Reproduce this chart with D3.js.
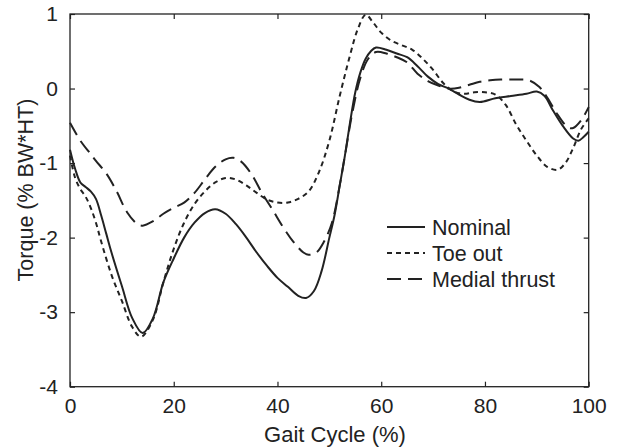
<!DOCTYPE html>
<html>
<head>
<meta charset="utf-8">
<script src="https://cdn.jsdelivr.net/npm/d3@7"></script>
<style>
  body { margin: 0; background: #fff; }
  text { font-family: "Liberation Sans", Arial, Helvetica, sans-serif; fill: #222; }
</style>
</head>
<body>
<div id="chart"></div>
<script>
// data: [gait cycle %, torque]
var nominal = [
  [0,-0.82],[1,-1.08],[2,-1.26],[3,-1.32],[4,-1.38],[5,-1.48],[6,-1.7],[7,-1.95],[8,-2.2],
  [10,-2.65],[12,-3.08],[14,-3.28],[16,-3.08],[18,-2.6],[20,-2.28],[22,-2.0],[24,-1.8],
  [26,-1.67],[28,-1.62],[30,-1.68],[32,-1.82],[34,-2.0],[36,-2.2],[38,-2.38],[40,-2.54],
  [42,-2.66],[44,-2.78],[45.5,-2.81],[47,-2.72],[48.5,-2.45],[50,-2.0],[51,-1.7],[52,-1.3],
  [53,-0.9],[54,-0.45],[55,-0.05],[56,0.22],[57,0.4],[58,0.5],[59,0.55],[61,0.52],[63,0.47],
  [65,0.42],[67,0.3],[69,0.16],[71,0.06],[73,0.0],[75,-0.08],[77,-0.15],[79,-0.18],[82,-0.13],
  [85,-0.1],[88,-0.07],[90,-0.04],[91.5,-0.1],[93,-0.28],[95,-0.5],[97,-0.67],[98,-0.7],
  [99,-0.65],[100,-0.58]
];

var toeOut = [
  [0,-0.9],[1,-1.2],[2,-1.35],[3,-1.45],[4,-1.6],[5,-1.8],[6,-2.05],[8,-2.5],[10,-2.85],
  [12,-3.2],[13.7,-3.33],[16,-3.1],[18,-2.6],[20,-2.15],[22,-1.8],[24,-1.55],[26,-1.38],
  [28,-1.26],[30,-1.2],[32,-1.22],[34,-1.3],[36,-1.4],[38,-1.49],[40,-1.53],[42,-1.53],
  [44,-1.48],[46,-1.38],[48,-1.12],[50,-0.7],[52,-0.1],[54,0.45],[55.5,0.8],[57,0.99],
  [58.5,0.88],[60,0.75],[62,0.64],[64,0.58],[66,0.52],[68,0.4],[70,0.25],[72,0.07],
  [74,-0.04],[76,-0.07],[78,-0.05],[80,-0.05],[82,-0.08],[84,-0.22],[86,-0.48],[88,-0.7],
  [90,-0.9],[92,-1.05],[94,-1.09],[95.5,-1.0],[97,-0.8],[98.5,-0.55],[100,-0.4]
];

var medialThrust = [
  [0,-0.46],[2,-0.7],[4,-0.88],[5,-0.97],[7,-1.14],[9,-1.38],[11,-1.66],[13,-1.82],
  [14,-1.84],[16,-1.78],[18,-1.68],[20,-1.6],[22,-1.53],[24,-1.4],[26,-1.22],[28,-1.05],
  [30,-0.95],[31.5,-0.93],[33,-0.98],[35,-1.15],[37,-1.4],[39,-1.62],[41,-1.85],[43,-2.05],
  [45,-2.2],[46,-2.23],[47.5,-2.2],[49,-2.05],[50.5,-1.8],[52,-1.3],[53,-0.9],[54.5,-0.3],
  [56,0.15],[57.5,0.4],[59,0.49],[61,0.47],[63,0.42],[65,0.35],[67,0.2],[69,0.1],[71,0.04],
  [73,0.0],[75,0.01],[77,0.05],[79,0.09],[81,0.11],[83,0.12],[86,0.12],[88.5,0.11],
  [90.5,0.02],[92,-0.12],[94,-0.35],[96,-0.52],[97,-0.53],[98.5,-0.43],[100,-0.25]
];

var seriesNames = ["Nominal", "Toe out", "Medial thrust"];
var xTicks = [0, 20, 40, 60, 80, 100];
var yTicks = [-4, -3, -2, -1, 0, 1];

// settings
var svgWidth = 618;
var svgHeight = 447;
var margin = { top: 14, right: 29.3, bottom: 60.3, left: 70 };
var width = svgWidth - margin.left - margin.right;
var height = svgHeight - margin.top - margin.bottom;
var ink = "#222";

var svg = d3.select("#chart")
  .append("svg")
  .attr("width", svgWidth)
  .attr("height", svgHeight);

var chart = svg.append("g")
  .attr("transform", `translate(${margin.left}, ${margin.top})`);

var x = d3.scaleLinear().domain([0, 100]).range([0, width]);
var y = d3.scaleLinear().domain([-4, 1]).range([height, 0]);

// plain hyphen labels like the original
var plain = d => String(d);

// axes, ticks pointing inward
function styleAxis(g) {
  g.select(".domain").remove();
  g.selectAll(".tick line").attr("stroke", ink).attr("stroke-width", 1.2);
  g.selectAll(".tick text").attr("font-size", 21).attr("fill", ink)
    .style("font-family", "'Liberation Sans', Arial, sans-serif");
}

chart.append("g")
  .attr("transform", `translate(0, ${height})`)
  .call(d3.axisBottom(x).tickValues(xTicks).tickFormat(plain).tickSizeInner(-5).tickSizeOuter(0).tickPadding(11))
  .call(styleAxis);

chart.append("g")
  .call(d3.axisTop(x).tickValues(xTicks).tickSizeInner(-5).tickSizeOuter(0).tickFormat(""))
  .call(styleAxis);

chart.append("g")
  .call(d3.axisLeft(y).tickValues(yTicks).tickFormat(plain).tickSizeInner(-5).tickSizeOuter(0).tickPadding(12))
  .call(styleAxis);

chart.append("g")
  .attr("transform", `translate(${width}, 0)`)
  .call(d3.axisRight(y).tickValues(yTicks).tickSizeInner(-5).tickSizeOuter(0).tickFormat(""))
  .call(styleAxis);

chart.append("rect")
  .attr("width", width)
  .attr("height", height)
  .attr("fill", "none")
  .attr("stroke", ink)
  .attr("stroke-width", 1.3);

// lines
var line = d3.line()
  .x(d => x(d[0]))
  .y(d => y(d[1]))
  .curve(d3.curveCatmullRom);

var dashes = ["none", "5,4", "14,7"];
var allSeries = [nominal, toeOut, medialThrust];

allSeries.forEach(function (s, i) {
  chart.append("path")
    .datum(s)
    .attr("d", line)
    .attr("fill", "none")
    .attr("stroke", ink)
    .attr("stroke-width", 2)
    .attr("stroke-dasharray", dashes[i]);
});

// legend
var legend = svg.append("g").attr("transform", "translate(387, 227)");

seriesNames.forEach(function (name, i) {
  legend.append("line")
    .attr("x1", 0).attr("x2", 38)
    .attr("y1", i * 26).attr("y2", i * 26)
    .attr("stroke", ink)
    .attr("stroke-width", 2)
    .attr("stroke-dasharray", dashes[i]);
  legend.append("text")
    .attr("x", 45)
    .attr("y", i * 26)
    .attr("dy", "0.36em")
    .attr("font-size", 21.5)
    .text(name);
});

// axis titles
svg.append("text")
  .attr("x", 335)
  .attr("y", 442)
  .attr("text-anchor", "middle")
  .attr("font-size", 22)
  .text("Gait Cycle (%)");

svg.append("text")
  .attr("transform", `translate(33, 190) rotate(-90)`)
  .attr("text-anchor", "middle")
  .attr("font-size", 21.5)
  .text("Torque (% BW*HT)");
</script>
</body>
</html>
